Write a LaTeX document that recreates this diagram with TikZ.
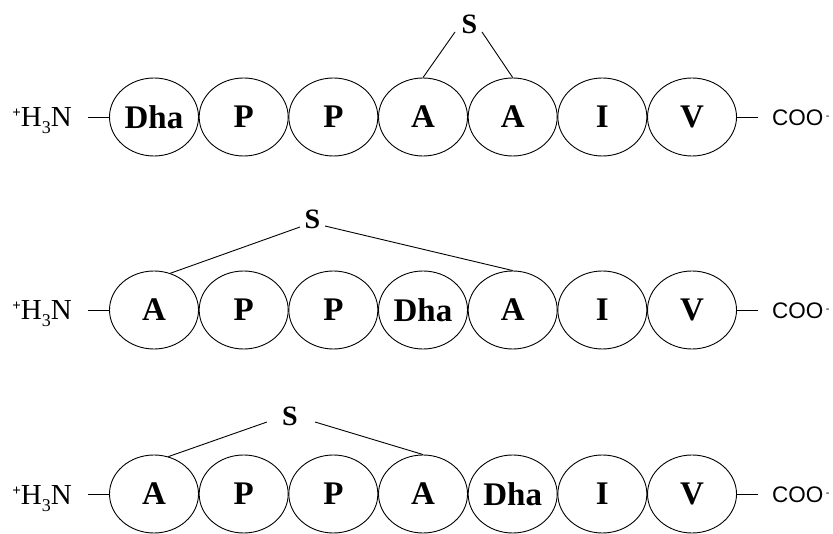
\documentclass[tikz,border=0pt]{standalone}
\usepackage{fontspec}
\setmainfont{Liberation Serif}
\newfontfamily\sansf{Liberation Sans}
\usetikzlibrary{shapes.geometric}
\begin{document}
\begin{tikzpicture}[x=1pt,y=-1pt,
  res/.style={ellipse,draw,line width=0.9pt,minimum width=89pt,minimum height=78pt,inner sep=0pt,font=\fontsize{33}{33}\selectfont\bfseries},
  sulf/.style={inner sep=0pt,font=\fontsize{28}{28}\selectfont\bfseries},
  bond/.style={line width=0.9pt},
  nterm/.style={inner sep=0pt,anchor=base east,font=\fontsize{29}{29}\selectfont},
  cterm/.style={inner sep=0pt,anchor=base west,font=\sansf\fontsize{22.5}{22.5}\selectfont}]
\useasboundingbox (0,0) rectangle (833,534);
% row 1
\foreach \lab [count=\i] in {Dha,P,P,A,A,I,V}
  \node[res] (r1-\i) at ({154+89.67*(\i-1)},117) {\lab};
% row 2
\foreach \lab [count=\i] in {A,P,P,Dha,A,I,V}
  \node[res] (r2-\i) at ({154+89.67*(\i-1)},310) {\lab};
% row 3
\foreach \lab [count=\i] in {A,P,P,A,Dha,I,V}
  \node[res] (r3-\i) at ({154+89.67*(\i-1)},494) {\lab};
% termini
\foreach \r/\y in {1/117,2/310,3/494}{
  \node[nterm] (h\r) at (72,\y+10) {{\fontsize{15}{15}\selectfont\bfseries\raisebox{9pt}{+}}H{\fontsize{18}{18}\selectfont\raisebox{-7pt}{3}}N};
  \node[cterm] (c\r) at (772,\y+9) {COO\hspace{2.5pt}{\fontsize{11}{11}\selectfont\raisebox{6pt}{-}}};
  \coordinate (h\r e) at (88,\y);
  \coordinate (c\r w) at (758,\y);
  \draw[bond] (h\r e) -- (r\r-1.west);
  \draw[bond] (r\r-7.east) -- (c\r w);
}
% sulfur bridges
\node[sulf] (s1) at (469.5,24) {S};
\node[sulf] (s2) at (312.5,219) {S};
\node[sulf] (s3) at (290,416) {S};
\coordinate (s1l) at (455,32);
\coordinate (s1r) at (482,32);
\coordinate (s2l) at (300,227);
\coordinate (s2r) at (325,226);
\coordinate (s3l) at (267,422);
\coordinate (s3r) at (315,422);
\draw[bond] (s1l) -- (r1-4.north);
\draw[bond] (s1r) -- (r1-5.north);
\draw[bond] (s2l) -- (r2-1.66);
\draw[bond] (s2r) -- (r2-5.north);
\draw[bond] (s3l) -- (r3-1.69);
\draw[bond] (s3r) -- (r3-4.north);
\end{tikzpicture}
\end{document}
